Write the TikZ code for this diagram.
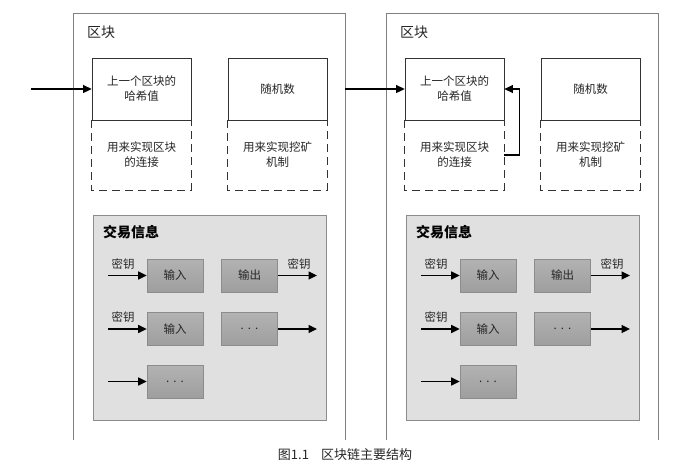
\documentclass[tikz,border=0pt]{standalone}
\usepackage{fontspec}
\newfontfamily\cjk{Noto Sans CJK SC}
\usetikzlibrary{arrows.meta}
\tikzset{
  frameline/.style={draw=black!50, line width=0.8pt},
  topbox/.style={draw=black!80, line width=0.8pt, minimum width=99pt, minimum height=62pt,
    align=center, inner sep=0pt, font=\cjk\fontsize{11.5}{15}\selectfont, text=black!85},
  lowbox/.style={minimum width=99pt, minimum height=70pt, align=center, inner sep=0pt,
    font=\cjk\fontsize{11.5}{15}\selectfont, text=black!85},
  dashline/.style={draw=black!80, line width=0.8pt, dash pattern=on 8pt off 5pt},
  txbox/.style={draw=black!45, fill=black!12, line width=0.8pt, minimum width=233pt, minimum height=205pt, inner sep=0pt},
  itembox/.style={draw=black!45, top color=black!30, bottom color=black!38, line width=0.6pt, minimum width=56pt, minimum height=33pt,
    inner sep=0pt, font=\cjk\fontsize{11.5}{14}\selectfont, text=black!85},
  lbl/.style={inner sep=0pt, font=\cjk\fontsize{11.5}{14}\selectfont, text=black!85},
  arr/.style={-{Triangle[length=8.5pt,width=8pt]}, line width=1.3pt},
}
\newcommand\drawblock[2]{%
  \begin{scope}[xshift=#2]
    \node[minimum width=271pt, minimum height=426pt, inner sep=0pt] (#1frame) at (209.5,227) {};
    \draw[frameline] (#1frame.south west) -- (#1frame.north west) -- (#1frame.north east) -- (#1frame.south east);
    \node[lbl, anchor=west, font=\cjk\fontsize{14}{16}\selectfont] (#1title) at (87,32) {区块};
    % hash box
    \node[topbox] (#1hash) at (141.5,89) {上一个区块的\\哈希值};
    \node[lowbox] (#1hashlow) at (141.5,155) {用来实现区块\\的连接};
    \draw[dashline] (#1hashlow.north west) -- (#1hashlow.south west) -- (#1hashlow.south east) -- (#1hashlow.north east);
    % random box
    \node[topbox] (#1rand) at (277.5,89) {随机数};
    \node[lowbox] (#1randlow) at (277.5,155) {用来实现挖矿\\机制};
    \draw[dashline] (#1randlow.north west) -- (#1randlow.south west) -- (#1randlow.south east) -- (#1randlow.north east);
    % transactions
    \node[txbox] (#1tx) at (209.5,317.5) {};
    \node[lbl, anchor=west, font=\cjk\bfseries\fontsize{14}{16}\selectfont, text=black] (#1txt) at (103,232) {交易信息};
    \node[itembox] (#1in1) at (175,275.5) {输入};
    \node[itembox] (#1out1) at (249.5,275.5) {输出};
    \node[itembox] (#1in2) at (175,329) {输入};
    \node[itembox] (#1out2) at (249.5,329) {.\hspace{4pt}.\hspace{4pt}.};
    \node[itembox] (#1in3) at (175,381.5) {.\hspace{4pt}.\hspace{4pt}.};
    \coordinate (#1s1) at (108,275.5);
    \coordinate (#1s2) at (108,329);
    \coordinate (#1s3) at (108,381.5);
    \coordinate (#1e1) at (317,275.5);
    \coordinate (#1e2) at (317,329);
    \draw[arr] (#1s1) -- (#1in1);
    \draw[arr] (#1s2) -- (#1in2);
    \draw[arr] (#1s3) -- (#1in3);
    \draw[arr] (#1out1) -- (#1e1);
    \draw[arr] (#1out2) -- (#1e2);
    \node[lbl] (#1k1) at (123,264) {密钥};
    \node[lbl] (#1k2) at (123,317) {密钥};
    \node[lbl] (#1k3) at (299,264) {密钥};
  \end{scope}}
\begin{document}
\begin{tikzpicture}[x=1pt, y=-1pt]
  \useasboundingbox (0,0) rectangle (695,469);
  \fill[white] (0,0) rectangle (695,469);
  \drawblock{a}{0pt}
  \drawblock{b}{313pt}
  \coordinate (start) at (31,89);
  \draw[arr] (start) -- (ahash);
  \draw[arr] (ahash.east -| aframe.east) -- (bhash.west);
  \draw[arr] (bhashlow.east) -- ++(15,0) |- (bhash.east);
  \node[lbl, font=\cjk\fontsize{13}{15}\selectfont] (caption) at (345,455) {图1.1\hspace{12pt}区块链主要结构};
\end{tikzpicture}
\end{document}
